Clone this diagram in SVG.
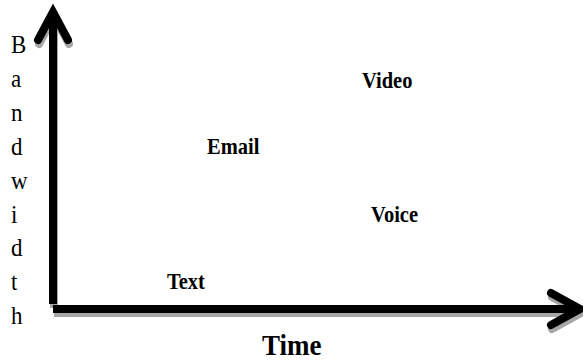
<svg xmlns="http://www.w3.org/2000/svg" width="583" height="360" viewBox="0 0 583 360">
  <defs>
    <style>
      .axis { fill: none; stroke: #000; stroke-width: 8; stroke-linejoin: miter; }
      .shadow { fill: none; stroke: #a6a6a6; stroke-width: 8; stroke-linejoin: miter; }
      .head { stroke-linecap: round; }
      .lbl { font-family: "Liberation Serif", "Times New Roman", serif; font-weight: bold; font-size: 20.5px; fill: #000; }
      .ylbl { font-family: "Liberation Serif", "Times New Roman", serif; font-size: 23px; fill: #000; }
      .title { font-family: "Liberation Serif", "Times New Roman", serif; font-weight: bold; font-size: 27px; fill: #000; }
    </style>
  </defs>
  <rect width="583" height="360" fill="#fff"/>

  <!-- axes with a soft grey drop shadow -->
  <g id="connectors">
    <g transform="translate(1,4)">
      <path class="shadow" d="M53,304 V16"/>
      <path class="shadow head" d="M38,40 L53,12 L68,40"/>
      <path class="shadow" d="M53,309 H576"/>
      <path class="shadow head" d="M551,293 L580,309 L551,325"/>
    </g>
    <path id="y-axis" class="axis" d="M53,304 V16"/>
    <path class="axis head" d="M38,40 L53,12 L68,40"/>
    <path id="x-axis" class="axis" d="M53,309 H576"/>
    <path class="axis head" d="M551,293 L580,309 L551,325"/>
  </g>

  <!-- vertical axis caption, one letter per line -->
  <g id="y-label" class="ylbl">
    <text transform="translate(11,53) scale(1,1.12)">B</text>
    <text transform="translate(11,87) scale(1,1.12)">a</text>
    <text transform="translate(11,121) scale(1,1.12)">n</text>
    <text transform="translate(11,155) scale(1,1.12)">d</text>
    <text transform="translate(11,189) scale(1,1.12)">w</text>
    <text transform="translate(11,223) scale(1,1.12)">i</text>
    <text transform="translate(11,256) scale(1,1.12)">d</text>
    <text transform="translate(11,290) scale(1,1.12)">t</text>
    <text transform="translate(11,324) scale(1,1.12)">h</text>
  </g>

  <g id="video"><text class="lbl" transform="translate(362,88) scale(1,1.1)">Video</text></g>
  <g id="email"><text class="lbl" transform="translate(207,154) scale(1,1.1)">Email</text></g>
  <g id="voice"><text class="lbl" transform="translate(371,222) scale(1,1.1)">Voice</text></g>
  <g id="text"><text class="lbl" transform="translate(167,289) scale(1,1.1)">Text</text></g>

  <g id="x-label"><text class="title" transform="translate(262,355) scale(1,1.08)">Time</text></g>
</svg>
